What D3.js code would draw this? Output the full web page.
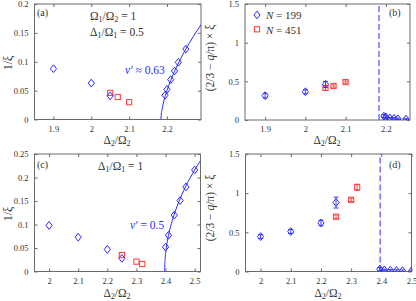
<!DOCTYPE html>
<html><head><meta charset="utf-8">
<script src="https://cdn.jsdelivr.net/npm/d3@7"></script>
<style>
html,body{margin:0;padding:0;background:#fff;}
svg{display:block;font-family:"Liberation Serif","DejaVu Serif",serif;}
</style></head>
<body><svg id="c" width="416" height="301"></svg>
<script>
// ---------- data ----------
// panel (a)
const aDiamX = [1.9, 2.0, 2.05, 2.195, 2.2, 2.21, 2.22, 2.23, 2.25];
const aDiamY = [0.088, 0.063, 0.041, 0.042, 0.052, 0.069, 0.084, 0.099, 0.122];
const aSqX = [2.05, 2.07, 2.1];
const aSqY = [0.046, 0.039, 0.030];
const aFitX = [2.184, 2.185, 2.187, 2.19, 2.195, 2.2, 2.21, 2.22, 2.235, 2.25, 2.27, 2.29];
const aFitY = [0, 0.0087, 0.0174, 0.0269, 0.0395, 0.050, 0.0678, 0.0833, 0.1037, 0.122, 0.144, 0.164];
// panel (b)
const bDiamX = [1.9, 2.0, 2.05, 2.195, 2.2, 2.21, 2.22, 2.23, 2.25];
const bDiamY = [0.315, 0.365, 0.46, 0.05, 0.04, 0.025, 0.02, 0.015, 0.012];
const bDiamErr = [0.03, 0.025, 0.04, 0.02, 0.015, 0.01, 0.01, 0.01, 0.01];
const bSqX = [2.05, 2.07, 2.1];
const bSqY = [0.415, 0.44, 0.49];
const bSqErr = [0.03, 0.015, 0.015];
const bCrit = 2.183;
// panel (c)
const cDiamX = [2.0, 2.1, 2.2, 2.25, 2.4, 2.41, 2.43, 2.45, 2.47, 2.5];
const cDiamY = [0.098, 0.073, 0.047, 0.028, 0.052, 0.077, 0.12, 0.151, 0.18, 0.216];
const cSqX = [2.25, 2.3, 2.32];
const cSqY = [0.035, 0.021, 0.016];
const cFitX = [2.397, 2.3975, 2.399, 2.402, 2.406, 2.41, 2.42, 2.43, 2.45, 2.47, 2.5, 2.52];
const cFitY = [0, 0.015, 0.0301, 0.0476, 0.0638, 0.0767, 0.1021, 0.122, 0.155, 0.182, 0.216, 0.236];
// panel (d)
const dDiamX = [2.0, 2.1, 2.2, 2.25, 2.395, 2.41, 2.43, 2.45, 2.47, 2.5];
const dDiamY = [0.445, 0.51, 0.62, 0.88, 0.03, 0.02, 0.015, 0.012, 0.01, 0.008];
const dDiamErr = [0.025, 0.025, 0.035, 0.07, 0.02, 0.01, 0.01, 0.01, 0.01, 0.01];
const dSqX = [2.25, 2.3, 2.32];
const dSqY = [0.70, 0.915, 1.075];
const dSqErr = [0.02, 0.02, 0.04];
const dCrit = 2.396;
// ticks
const xTicksAB = [1.9, 2.0, 2.1, 2.2];
const xTickLabelsAB = ["1.9", "2", "2.1", "2.2"];
const xTicksCD = [2.0, 2.1, 2.2, 2.3, 2.4, 2.5];
const xTickLabelsCD = ["2", "2.1", "2.2", "2.3", "2.4", "2.5"];
const yTicksA = [0, 0.05, 0.1, 0.15, 0.2];
const yTickLabelsA = ["0", "0.05", "0.1", "0.15", "0.2"];
const yTicksC = [0, 0.05, 0.1, 0.15, 0.2, 0.25];
const yTickLabelsC = ["0", "0.05", "0.1", "0.15", "0.2", "0.25"];
const yTicksBD = [0, 0.5, 1, 1.5];
const yTickLabelsBD = ["0", "0.5", "1", "1.5"];
const legendLabels = ["199", "451"];

// ---------- drawing ----------
const BLUE = "#2a2aff", RED = "#ff3a3a", AX = "#6a6a6a", TXT = "#333";
const svg = d3.select("#c");

const zip = (xs, ys, es) => xs.map((x, i) => ({x, y: ys[i], e: es ? es[i] : 0}));

function panel(o) {
  const x = d3.scaleLinear().domain(o.xd).range([o.l, o.r]);
  const y = d3.scaleLinear().domain(o.yd).range([o.b, o.t]);
  const g = svg.append("g");
  g.append("rect").attr("x", o.l).attr("y", o.t).attr("width", o.r - o.l).attr("height", o.b - o.t)
    .attr("fill", "none").attr("stroke", AX).attr("stroke-width", 1);
  const fmtX = d => o.xl[o.xt.indexOf(d)];
  const fmtY = d => o.yl[o.yt.indexOf(d)];
  const bottom = g.append("g").attr("transform", `translate(0,${o.b})`)
    .call(d3.axisBottom(x).tickValues(o.xt).tickFormat(fmtX).tickSize(-3).tickPadding(6));
  const left = g.append("g").attr("transform", `translate(${o.l},0)`)
    .call(d3.axisLeft(y).tickValues(o.yt).tickFormat(fmtY).tickSize(-3).tickPadding(6));
  const top = g.append("g").attr("transform", `translate(0,${o.t})`)
    .call(d3.axisTop(x).tickValues(o.xt).tickFormat("").tickSize(-3));
  const right = g.append("g").attr("transform", `translate(${o.r},0)`)
    .call(d3.axisRight(y).tickValues(o.yt).tickFormat("").tickSize(-3));
  [bottom, left, top, right].forEach(a => {
    a.select(".domain").remove();
    a.selectAll(".tick line").attr("stroke", AX);
    a.selectAll("text").attr("fill", TXT).style("font-size", "8.5px").style("font-family", "Liberation Serif, serif");
  });

  const clipId = "clip" + o.id;
  svg.append("clipPath").attr("id", clipId).append("rect")
    .attr("x", o.l).attr("y", o.t - 1).attr("width", o.r - o.l).attr("height", o.b - o.t + 1);
  const pg = g.append("g").attr("clip-path", `url(#${clipId})`);

  if (o.crit !== undefined) {
    pg.append("line").attr("x1", x(o.crit)).attr("x2", x(o.crit)).attr("y1", o.b).attr("y2", o.t)
      .attr("stroke", BLUE).attr("stroke-width", 1).attr("stroke-dasharray", "6,3");
  }
  if (o.fit) {
    const line = d3.line().x(d => x(d.x)).y(d => y(d.y)).curve(d3.curveMonotoneX);
    pg.append("path").attr("d", line(o.fit)).attr("fill", "none").attr("stroke", BLUE).attr("stroke-width", 1);
  }
  const errBars = (data, color) => {
    data.filter(d => d.e > 0).forEach(d => {
      const cx = x(d.x), y1 = y(d.y - d.e), y2 = y(d.y + d.e);
      pg.append("line").attr("x1", cx).attr("x2", cx).attr("y1", y1).attr("y2", y2).attr("stroke", color).attr("stroke-width", 0.9);
      [y1, y2].forEach(yy => pg.append("line").attr("x1", cx - 2.5).attr("x2", cx + 2.5).attr("y1", yy).attr("y2", yy)
        .attr("stroke", color).attr("stroke-width", 0.9));
    });
  };
  errBars(o.sq, RED);
  pg.selectAll(".sq" + o.id).data(o.sq).join("rect")
    .attr("x", d => x(d.x) - 2.6).attr("y", d => y(d.y) - 2.6).attr("width", 5.2).attr("height", 5.2)
    .attr("fill", "none").attr("stroke", RED).attr("stroke-width", 1);
  errBars(o.dm, BLUE);
  pg.selectAll(".dm" + o.id).data(o.dm).join("path")
    .attr("transform", d => `translate(${x(d.x)},${y(d.y)})`)
    .attr("d", "M0,-3.9L3.1,0L0,3.9L-3.1,0Z")
    .attr("fill", "none").attr("stroke", BLUE).attr("stroke-width", 1);
  return {x, y, g};
}

// helper: text with subscripts; parts = [[text, sub?, italic?], ...]
function rich(sel, parts, size) {
  parts.forEach(p => {
    const t = sel.append("tspan").text(p[0]);
    if (p[1]) t.attr("baseline-shift", "-28%").style("font-size", (size * 0.7) + "px");
    if (p[2]) t.style("font-style", "italic");
  });
  return sel;
}
function xLabel(cx, yb) {
  const t = svg.append("text").attr("x", cx).attr("y", yb).attr("text-anchor", "middle")
    .attr("fill", TXT).style("font-size", "11.5px");
  rich(t, [["Δ"], ["2", 1], ["/Ω"], ["2", 1]], 11.5);
}
function yLabel(cx, cy, parts, size) {
  const t = svg.append("text").attr("transform", `translate(${cx},${cy}) rotate(-90)`).attr("text-anchor", "middle")
    .attr("fill", TXT).style("font-size", size + "px");
  rich(t, parts, size);
}
function txt(xp, yp, parts, size, color, anchor) {
  const t = svg.append("text").attr("x", xp).attr("y", yp).attr("fill", color || TXT)
    .attr("text-anchor", anchor || "start").style("font-size", size + "px");
  rich(t, parts, size);
  return t;
}

// panel a
panel({id: "a", l: 34.5, r: 201, t: 4, b: 119.5, xd: [1.85, 2.29], yd: [0, 0.2],
  xt: xTicksAB, xl: xTickLabelsAB, yt: yTicksA, yl: yTickLabelsA,
  dm: zip(aDiamX, aDiamY), sq: zip(aSqX, aSqY), fit: zip(aFitX, aFitY)});
// panel b
panel({id: "b", l: 245, r: 410, t: 4, b: 120, xd: [1.85, 2.26], yd: [0, 1.5],
  xt: xTicksAB, xl: xTickLabelsAB, yt: yTicksBD, yl: yTickLabelsBD,
  dm: zip(bDiamX, bDiamY, bDiamErr), sq: zip(bSqX, bSqY, bSqErr), crit: bCrit});
// panel c
panel({id: "c", l: 34.5, r: 200.5, t: 154, b: 271.5, xd: [1.95, 2.52], yd: [0, 0.25],
  xt: xTicksCD, xl: xTickLabelsCD, yt: yTicksC, yl: yTickLabelsC,
  dm: zip(cDiamX, cDiamY), sq: zip(cSqX, cSqY), fit: zip(cFitX, cFitY)});
// panel d
panel({id: "d", l: 245.5, r: 411.5, t: 154, b: 271.5, xd: [1.95, 2.5], yd: [0, 1.5],
  xt: xTicksCD, xl: xTickLabelsCD, yt: yTicksBD, yl: yTickLabelsBD,
  dm: zip(dDiamX, dDiamY, dDiamErr), sq: zip(dSqX, dSqY, dSqErr), crit: dCrit});

// axis labels
xLabel(117, 144);
xLabel(327, 144);
xLabel(117, 297);
xLabel(328, 297);
yLabel(11.5, 63, [["1/ξ"]], 12);
yLabel(11.5, 214, [["1/ξ"]], 12);
const yl2 = [["(2/3 − "], ["q", 0, 1], ["/π) × ξ"]];
yLabel(214, 58, yl2, 11.5);
yLabel(214, 208, yl2, 11.5);

// panel annotations
txt(37, 16, [["(a)"]], 10);
txt(389, 16, [["(b)"]], 10);
txt(37, 168, [["(c)"]], 10);
txt(389, 168, [["(d)"]], 10);
txt(90, 20, [["Ω"], ["1", 1], ["/Ω"], ["2", 1], [" = 1"]], 11.5);
txt(90, 36, [["Δ"], ["1", 1], ["/Ω"], ["1", 1], [" = 0.5"]], 11.5);
txt(98, 170, [["Δ"], ["1", 1], ["/Ω"], ["1", 1], [" = 1"]], 11.5);
txt(125, 74, [["ν′", 0, 1], [" ≈ 0.63"]], 11.5, BLUE);
txt(130, 229, [["ν′", 0, 1], [" = 0.5"]], 11.5, BLUE);

// legend in (b)
const lg = svg.append("g");
lg.append("path").attr("transform", "translate(257,15)").attr("d", "M0,-3.9L3.1,0L0,3.9L-3.1,0Z")
  .attr("fill", "none").attr("stroke", BLUE);
lg.append("rect").attr("x", 254.4).attr("y", 26.7).attr("width", 5.2).attr("height", 5.2)
  .attr("fill", "none").attr("stroke", RED);
txt(266, 19, [["N", 0, 1], [" = " + legendLabels[0]]], 11);
txt(266, 33.5, [["N", 0, 1], [" = " + legendLabels[1]]], 11);
</script></body></html>
